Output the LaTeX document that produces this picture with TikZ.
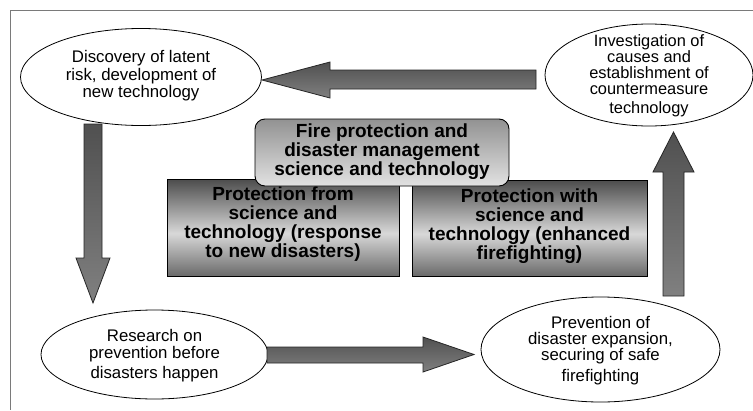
\documentclass[tikz,border=0pt]{standalone}
\usepackage{fontspec}
\setmainfont{Liberation Sans}
\usetikzlibrary{shapes.geometric}
\definecolor{boxbot}{HTML}{6A6A6A}
\definecolor{boxlight}{HTML}{D8D8D8}
\definecolor{boxtop}{HTML}{4C4C4C}
\definecolor{arrtop}{HTML}{505050}
\definecolor{arrbot}{HTML}{808080}
\definecolor{rtop}{HTML}{929292}
\definecolor{rbot}{HTML}{E2E2E2}
\definecolor{framegray}{HTML}{7A7A7A}
\pgfdeclareverticalshading{boxshade}{100bp}{color(0bp)=(boxbot); color(25bp)=(boxbot); color(47bp)=(boxlight); color(75bp)=(boxtop); color(100bp)=(boxtop)}
\tikzset{
  ell/.style={draw=black, line width=0.8pt, ellipse, inner sep=0pt, fill=white},
  elltext/.style={align=center, inner sep=0pt, font=\fontsize{16.8}{17.5}\selectfont},
  boxnode/.style={draw=black, line width=0.9pt, rectangle, inner sep=0pt, shade, shading=boxshade},
  roundnode/.style={draw=black, line width=0.9pt, rectangle, rounded corners=10pt, inner sep=0pt, top color=rtop, bottom color=rbot},
  boxtext/.style={align=center, inner sep=0pt, font=\fontsize{19}{19}\selectfont\bfseries},
  blockarrow/.style={draw=black!85, line width=0.8pt, top color=arrtop, bottom color=arrbot, line join=miter},
}
\begin{document}
\begin{tikzpicture}[x=1pt, y=-1pt]
\useasboundingbox (0,0) rectangle (753,410);
\fill[white] (0,0) rectangle (753,410);
% frame
\draw[framegray, line width=1pt] (753,10) -- (10,10) -- (10,410);

% ellipses
\node[ell, minimum width=241pt, minimum height=97pt] (e1) at (141,77) {};
\node[elltext] (t1) at (141,76) {Discovery of latent\\risk, development of\\new technology};

\node[ell, minimum width=208pt, minimum height=102pt] (e2) at (649,75) {};
\node[elltext, font=\fontsize{16.4}{15.9}\selectfont] (t2) at (649,76) {Investigation of\\causes and\\establishment of\\countermeasure\\[3pt]technology};

\node[ell, minimum width=227pt, minimum height=89pt] (e3) at (154.5,354.5) {};
\node[elltext, font=\fontsize{16.8}{17}\selectfont] (t3) at (154.5,355.5) {Research on\\prevention before\\[3pt]disasters happen};

\node[ell, minimum width=239pt, minimum height=105pt] (e4) at (600.5,349.5) {};
\node[elltext, font=\fontsize{16.8}{16.3}\selectfont] (t4) at (600.5,350.5) {Prevention of\\disaster expansion,\\securing of safe\\[4pt]firefighting};

% block arrows
\shade[blockarrow] (536,70) -- (330,70) -- (330,62) -- (262,80) -- (330,98) -- (330,89) -- (536,89) -- cycle;
\shade[blockarrow] (84,124) -- (84,258) -- (76,258) -- (93,303) -- (110,258) -- (102,258) -- (102,124) -- cycle;
\shade[blockarrow] (267,347) -- (423,347) -- (423,337) -- (474,354.5) -- (423,372) -- (423,363) -- (267,363) -- cycle;
\shade[blockarrow] (663,296) -- (663,172) -- (653,172) -- (673.5,132) -- (694,172) -- (684,172) -- (684,296) -- cycle;

% boxes
\node[boxnode, minimum width=232pt, minimum height=97pt] (b1) at (283,227.5) {};
\node[boxtext] (bt1) at (283,224) {Protection from\\science and\\technology (response\\to new disasters)};

\node[boxnode, minimum width=235pt, minimum height=96pt] (b2) at (529.5,228) {};
\node[boxtext] (bt2) at (529.5,226) {Protection with\\science and\\technology (enhanced\\firefighting)};

\node[roundnode, minimum width=254pt, minimum height=67pt] (b3) at (382,152.5) {};
\node[boxtext] (bt3) at (382,151.5) {Fire protection and\\disaster management\\science and technology};
\end{tikzpicture}
\end{document}
